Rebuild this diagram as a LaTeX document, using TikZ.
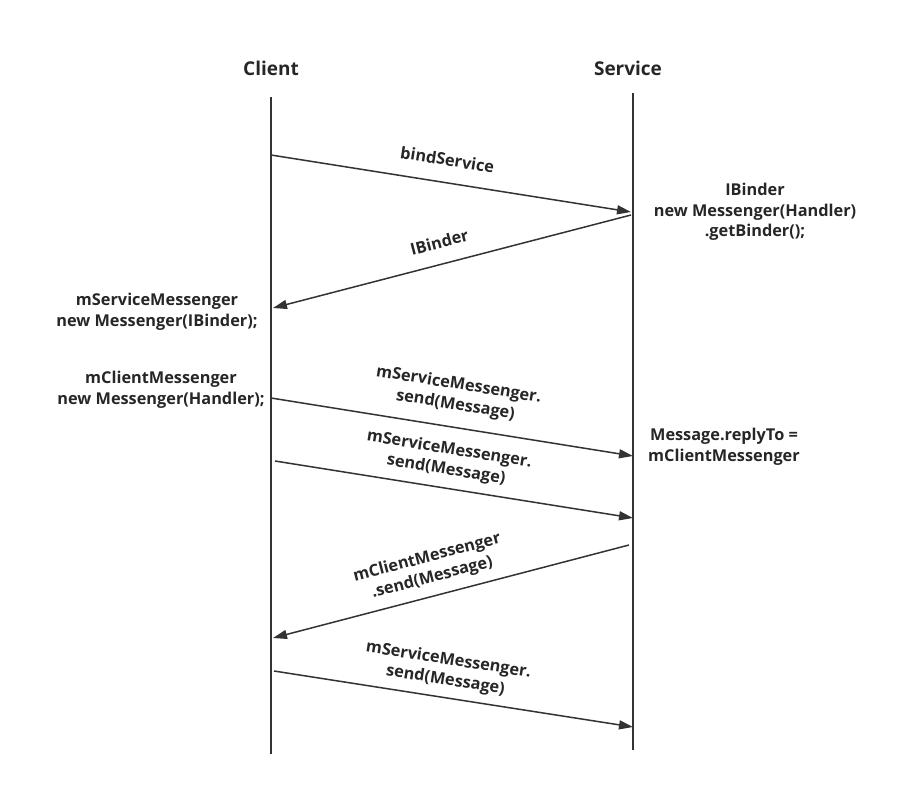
\documentclass[tikz,border=0pt]{standalone}
\usepackage{fontspec}
\setmainfont{Open Sans}
\usetikzlibrary{arrows.meta,positioning}

\tikzset{
  lifeline/.style={line width=1.6pt, black!80},
  msg/.style={line width=1.5pt, black!80, -{Triangle[length=14pt,width=9pt]}},
  msgback/.style={line width=1.5pt, black!80, {Triangle[length=14pt,width=9pt]}-},
  lbl/.style={font=\fontsize{16.3}{20.5}\selectfont\bfseries, align=center, text=black!85, inner sep=1pt},
  head/.style={font=\fontsize{19}{22}\selectfont\bfseries, text=black!85},
}

\begin{document}
\begin{tikzpicture}[x=1pt,y=-1pt]
    \useasboundingbox (0,0) rectangle (899,787);

    % Participants
    \node[head] (client) at (271,68) {Client};
    \node[head] (service) at (628,68) {Service};

    % Lifelines
    \coordinate (ctop) at (271,97);  \coordinate (cbot) at (271,754);
    \coordinate (stop) at (633,93);  \coordinate (sbot) at (633,750);
    \draw[lifeline] (ctop) -- (cbot);
    \draw[lifeline] (stop) -- (sbot);

    % Message end points
    \coordinate (c1) at (271,155);  \coordinate (s1) at (631,212);
    \coordinate (c2) at (273,308);  \coordinate (s2) at (631,215);
    \coordinate (c3) at (271,398);  \coordinate (s3) at (633,456);
    \coordinate (c4) at (275,461);  \coordinate (s4) at (633,518);
    \coordinate (c5) at (273,638);  \coordinate (s5) at (629,545);
    \coordinate (c6) at (274,671);  \coordinate (s6) at (633,727);

    % Binding
    \draw[msg] (c1) -- (s1) node[lbl, pos=0.48, sloped, above=15pt] (bind) {bindService};
    \draw[msgback] (c2) -- (s2) node[lbl, pos=0.48, sloped, above=14pt] (ibinder) {IBinder};

    % Messages
    \draw[msg] (c3) -- (s3) node[lbl, pos=0.5, sloped, above=12pt] (send1) {mServiceMessenger.\\send(Message)};
    \draw[msg] (c4) -- (s4) node[lbl, pos=0.47, sloped, above=8pt] (send2) {mServiceMessenger.\\send(Message)};
    \draw[msgback] (c5) -- (s5) node[lbl, pos=0.46, sloped, above=8pt] (reply) {mClientMessenger\\.send(Message)};
    \draw[msg] (c6) -- (s6) node[lbl, pos=0.47, sloped, above=7pt] (send3) {mServiceMessenger.\\send(Message)};

    % Notes
    \node[lbl] (getbinder) at (755,212) {IBinder\\new Messenger(Handler)\\.getBinder();};
    \node[lbl] (smsgr) at (157,312) {mServiceMessenger\\new Messenger(IBinder);};
    \node[lbl] (cmsgr) at (161,390) {mClientMessenger\\new Messenger(Handler);};
    \node[lbl] (replyto) at (724,447) {Message.replyTo =\\mClientMessenger};
\end{tikzpicture}
\end{document}
